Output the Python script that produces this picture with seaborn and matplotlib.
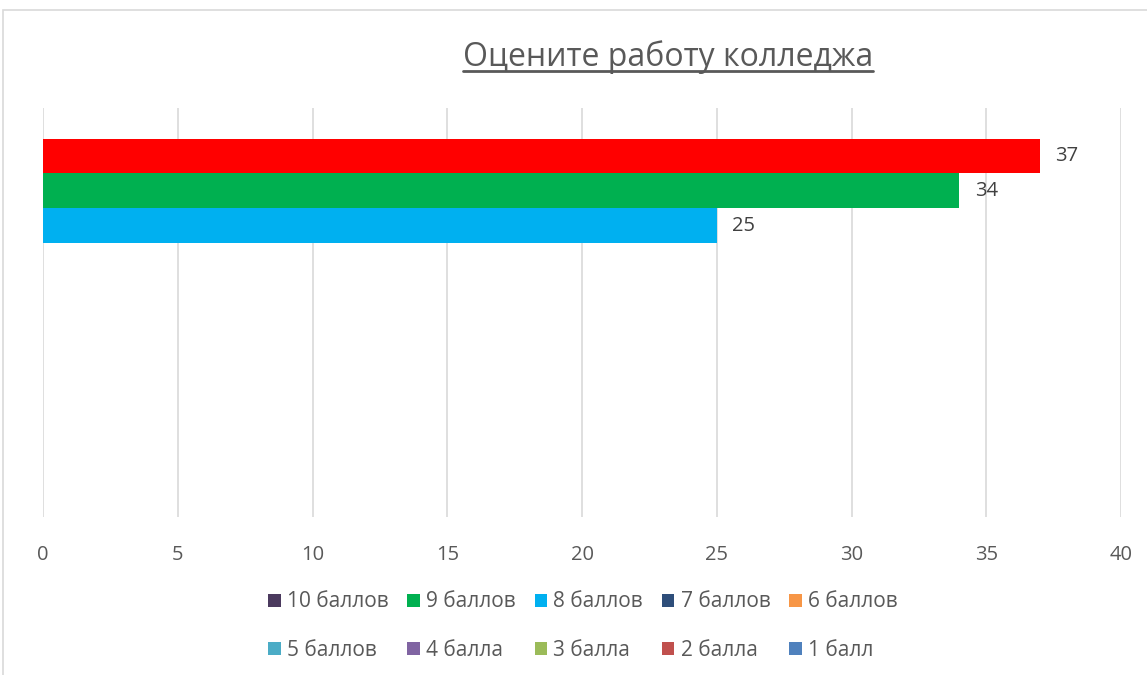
import pandas as pd
import matplotlib.pyplot as plt
import seaborn as sns
from matplotlib.patches import Patch, Rectangle
from matplotlib.lines import Line2D

series = ["10 баллов", "9 баллов", "8 баллов", "7 баллов", "6 баллов",
          "5 баллов", "4 балла", "3 балла", "2 балла", "1 балл"]
values = [37, 34, 25, 0, 0, 0, 0, 0, 0, 0]
legend_colors = ["#4B3A5E", "#00B050", "#00B0F0", "#2E4E7A", "#F79646",
                 "#4BACC6", "#8064A2", "#9BBB59", "#C0504D", "#4F81BD"]
bar_colors = ["#FF0000"] + legend_colors[1:]
title = "Оцените работу колледжа"
x_ticks = [0, 5, 10, 15, 20, 25, 30, 35, 40]

sns.set_theme(style="white")
plt.rcParams["font.family"] = ["Open Sans", "DejaVu Sans"]

df = pd.DataFrame({"q": [""] * len(series), "series": series, "value": values})

fig = plt.figure(figsize=(11.47, 6.75), dpi=100)
ax = fig.add_axes([43 / 1147, 1 - 517 / 675, (1121 - 43) / 1147, (517 - 108) / 675])

sns.barplot(data=df, x="value", y="q", hue="series", hue_order=series,
            palette=bar_colors, orient="h", width=0.85, ax=ax,
            legend=False, saturation=1, linewidth=0)

for cont, v in zip(ax.containers, values):
    ax.bar_label(cont, labels=[str(v) if v else ""], padding=11,
                 fontsize=14.5, color="#404040")

ax.set_xlim(0, 40)
ax.set_ylim(0.5, -0.5)
ax.set_xticks(x_ticks)
ax.tick_params(axis="x", labelsize=14.5, labelcolor="#595959", length=0, pad=20)
ax.set_yticks([])
ax.set_xlabel("")
ax.set_ylabel("")
ax.grid(axis="x", color="#D9D9D9", linewidth=1.2)
ax.set_axisbelow(True)
for s in ax.spines.values():
    s.set_visible(False)

t = fig.text(668 / 1147, 1 - 57 / 675, title, ha="center", va="center",
             fontsize=23, color="#595959")

# legend filled row by row (matplotlib fills column-wise)
order = [0, 5, 1, 6, 2, 7, 3, 8, 4, 9]
handles = [Patch(facecolor=legend_colors[i], edgecolor="none") for i in order]
labels = [series[i] for i in order]
fig.legend(handles, labels, loc="center", bbox_to_anchor=(583 / 1147, 1 - 626 / 675),
           ncol=5, frameon=False, fontsize=15, labelcolor="#595959",
           handlelength=0.6, handleheight=0.6, handletextpad=0.3,
           columnspacing=0.9, labelspacing=1.3)

# underline under the title
fig.canvas.draw()
bb = t.get_window_extent()
y_line = (bb.y0 + 3) / fig.bbox.height
fig.add_artist(Line2D([bb.x0 / fig.bbox.width, bb.x1 / fig.bbox.width], [y_line, y_line],
                      color="#595959", linewidth=2))

# chart area border
fig.add_artist(Rectangle((3 / 1147, -0.1), 1.2, 1 - 10 / 675 + 0.1,
                         transform=fig.transFigure, fill=False,
                         edgecolor="#D9D9D9", linewidth=1.2))

plt.savefig("out.png", dpi=100)
plt.close()
